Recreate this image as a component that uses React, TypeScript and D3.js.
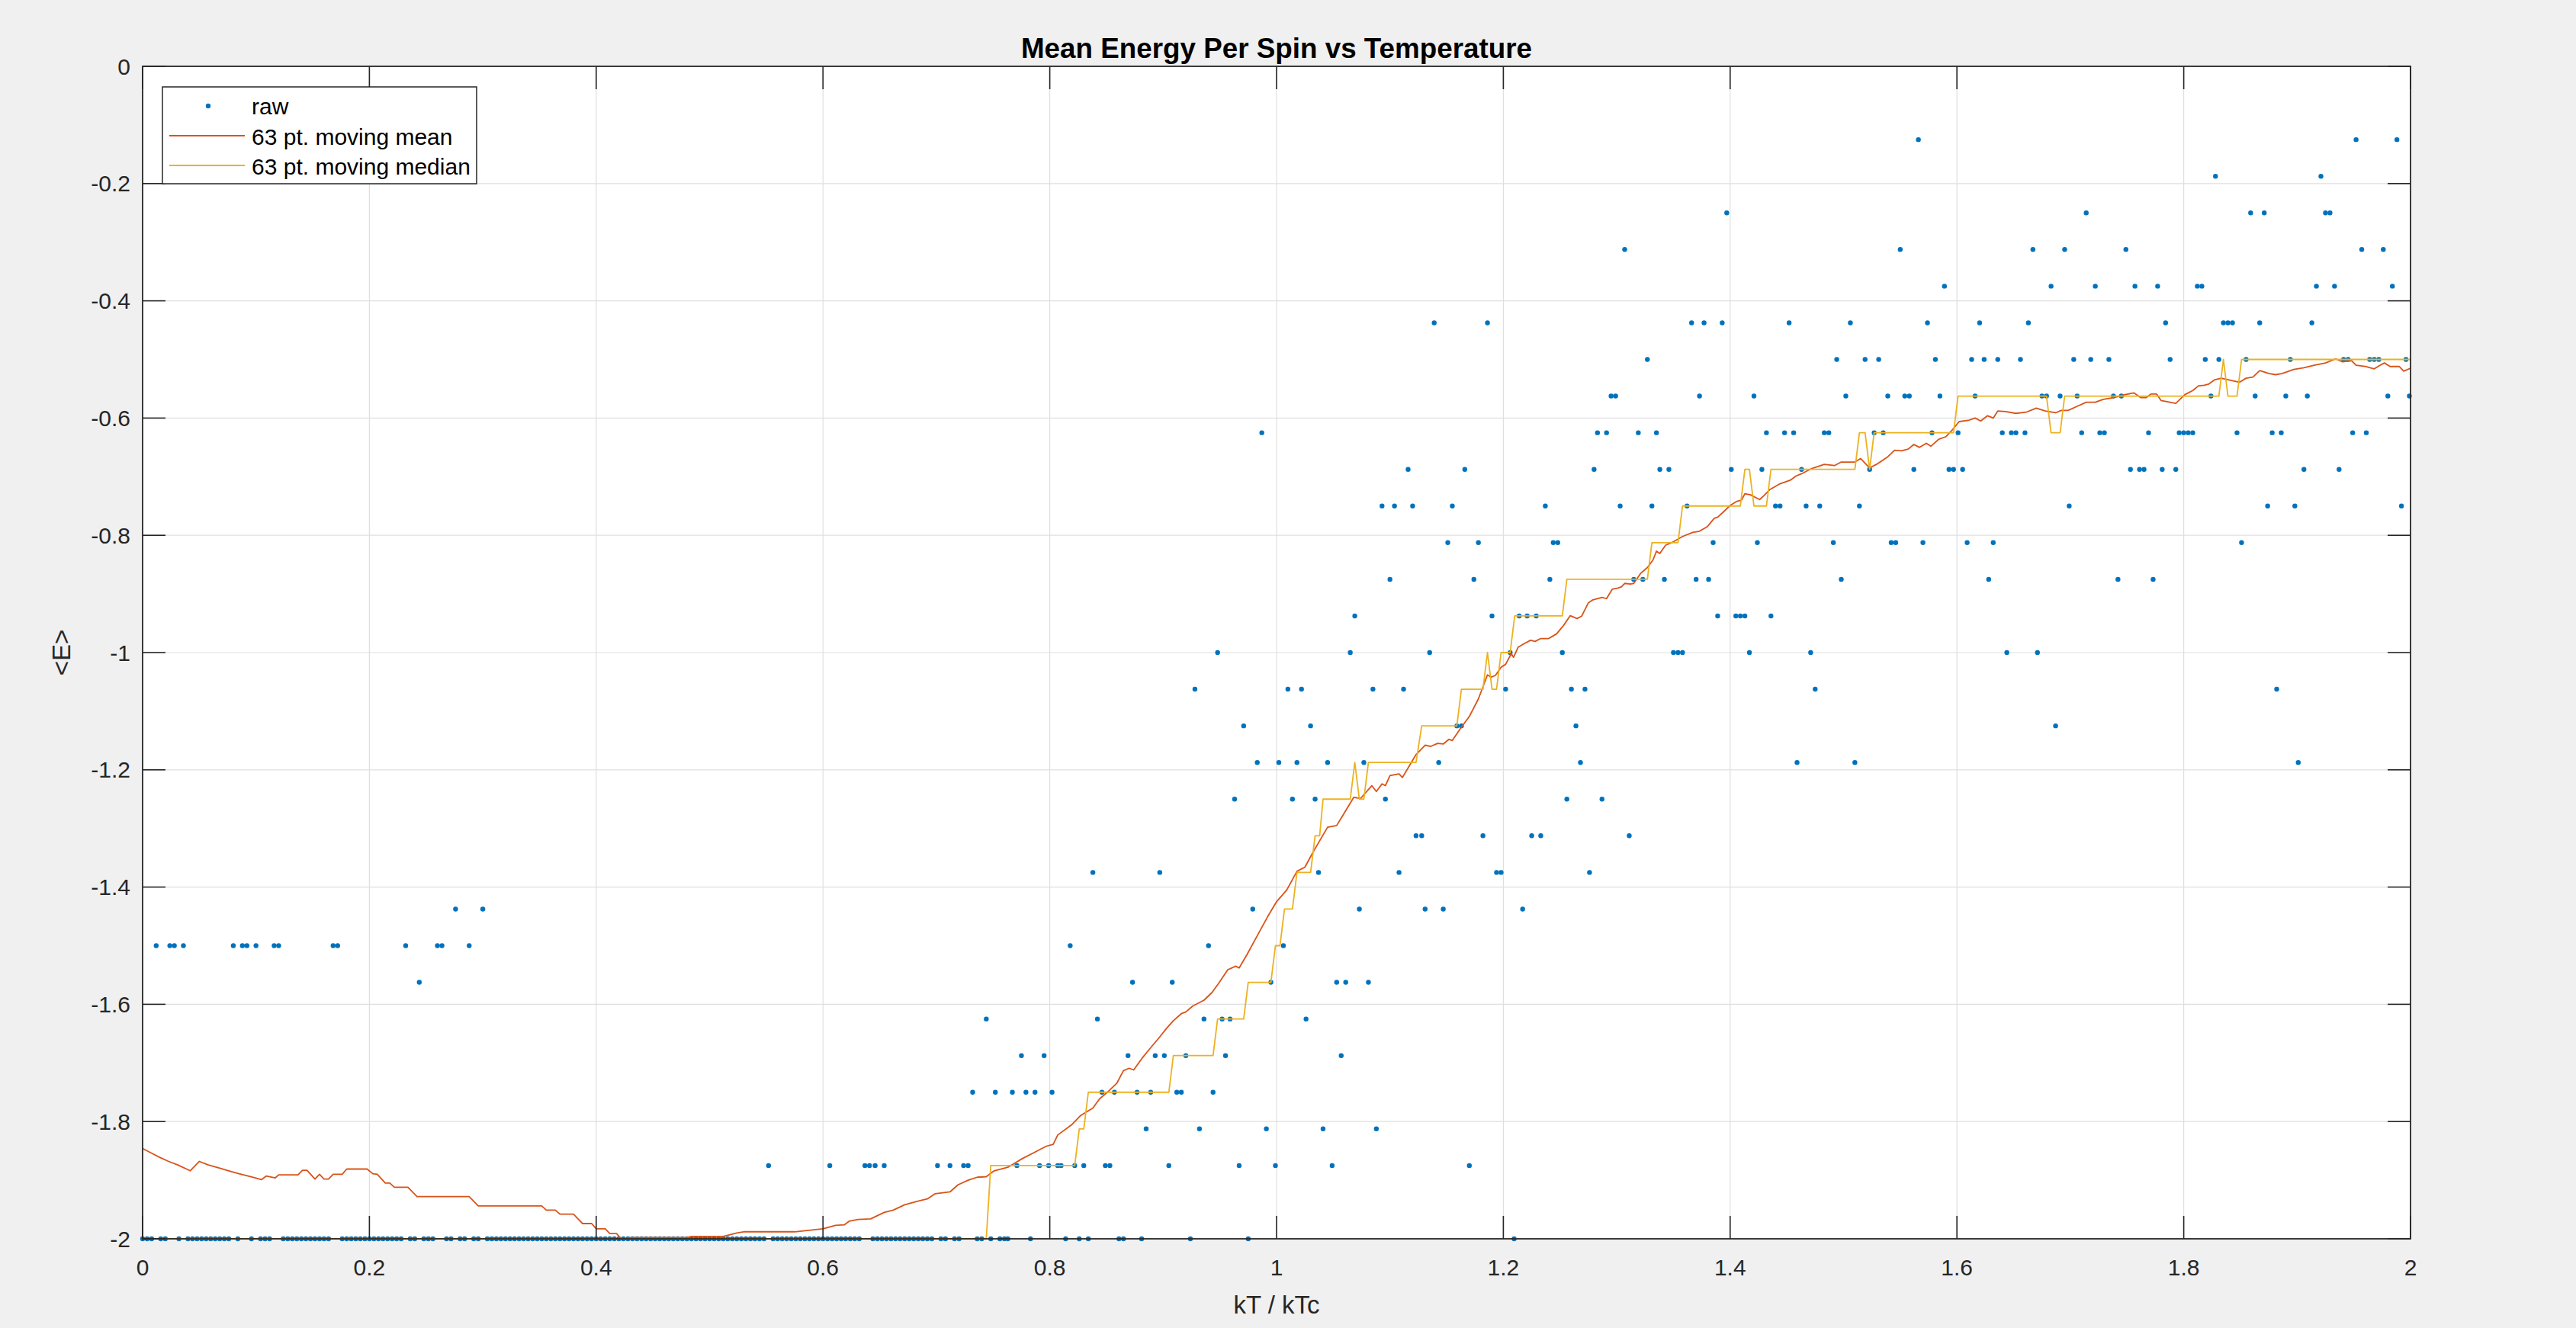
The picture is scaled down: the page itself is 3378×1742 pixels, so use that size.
import React, { useEffect } from 'react';
import * as d3 from 'd3';

// ---------- data ----------
const xTickValues = [0, 0.2, 0.4, 0.6, 0.8, 1, 1.2, 1.4, 1.6, 1.8, 2];
const yTickValues = [-2, -1.8, -1.6, -1.4, -1.2, -1, -0.8, -0.6, -0.4, -0.2, 0];

// raw samples that are not at the floor (-2), grouped by energy level
const rawByLevel: [number, number[]][] = [
  [-0.125, [1.566, 1.952, 1.988]],
  [-0.1875, [1.828, 1.921]],
  [-0.25, [1.397, 1.714, 1.859, 1.871, 1.925, 1.929]],
  [-0.3125, [1.307, 1.55, 1.667, 1.695, 1.749, 1.957, 1.976]],
  [-0.375, [1.589, 1.683, 1.722, 1.757, 1.777, 1.812, 1.816, 1.917, 1.933, 1.984]],
  [-0.4375, [1.139, 1.186, 1.366, 1.377, 1.393, 1.452, 1.506, 1.574, 1.62, 1.663, 1.784, 1.835, 1.839, 1.843, 1.867, 1.913]],
  [-0.5, [1.327, 1.494, 1.519, 1.531, 1.581, 1.613, 1.624, 1.636, 1.656, 1.703, 1.718, 1.734, 1.788, 1.819, 1.831, 1.855, 1.894, 1.941, 1.945, 1.964, 1.968, 1.972, 1.996]],
  [-0.5625, [1.295, 1.299, 1.373, 1.421, 1.502, 1.539, 1.554, 1.558, 1.585, 1.616, 1.675, 1.679, 1.691, 1.706, 1.738, 1.745, 1.824, 1.863, 1.89, 1.909, 1.98, 1.999]],
  [-0.625, [0.987, 1.283, 1.291, 1.319, 1.335, 1.432, 1.448, 1.456, 1.483, 1.487, 1.527, 1.535, 1.578, 1.601, 1.64, 1.648, 1.652, 1.66, 1.71, 1.726, 1.73, 1.769, 1.796, 1.8, 1.804, 1.808, 1.847, 1.878, 1.886, 1.949, 1.961]],
  [-0.6875, [1.116, 1.166, 1.28, 1.338, 1.346, 1.401, 1.428, 1.463, 1.523, 1.562, 1.593, 1.597, 1.605, 1.753, 1.761, 1.765, 1.781, 1.793, 1.906, 1.937]],
  [-0.75, [1.093, 1.104, 1.12, 1.155, 1.237, 1.303, 1.331, 1.362, 1.44, 1.444, 1.467, 1.479, 1.514, 1.699, 1.874, 1.898, 1.992]],
  [-0.8125, [1.151, 1.178, 1.244, 1.248, 1.385, 1.424, 1.491, 1.542, 1.546, 1.57, 1.609, 1.632, 1.851]],
  [-0.875, [1.1, 1.174, 1.241, 1.315, 1.323, 1.342, 1.37, 1.381, 1.498, 1.628, 1.742, 1.773]],
  [-0.9375, [1.069, 1.19, 1.214, 1.221, 1.229, 1.389, 1.405, 1.409, 1.413, 1.436]],
  [-1.0, [0.948, 1.065, 1.135, 1.206, 1.252, 1.35, 1.354, 1.358, 1.417, 1.471, 1.644, 1.671]],
  [-1.0625, [0.928, 1.01, 1.022, 1.085, 1.112, 1.202, 1.26, 1.272, 1.475, 1.882]],
  [-1.125, [0.971, 1.03, 1.159, 1.163, 1.264, 1.687]],
  [-1.1875, [0.983, 1.002, 1.018, 1.045, 1.077, 1.143, 1.268, 1.459, 1.51, 1.901]],
  [-1.25, [0.963, 1.014, 1.034, 1.096, 1.256, 1.287]],
  [-1.3125, [1.123, 1.128, 1.182, 1.225, 1.233, 1.311]],
  [-1.375, [0.838, 0.897, 1.037, 1.108, 1.194, 1.198, 1.276]],
  [-1.4375, [0.276, 0.3, 0.979, 1.073, 1.131, 1.147, 1.217]],
  [-1.5, [0.012, 0.024, 0.028, 0.036, 0.08, 0.088, 0.092, 0.1, 0.116, 0.12, 0.168, 0.172, 0.232, 0.26, 0.264, 0.288, 0.818, 0.94, 1.006]],
  [-1.5625, [0.244, 0.873, 0.908, 0.995, 1.053, 1.061, 1.081]],
  [-1.625, [0.744, 0.842, 0.936, 0.952, 0.959, 1.026]],
  [-1.6875, [0.775, 0.795, 0.869, 0.893, 0.901, 0.92, 0.955, 1.057]],
  [-1.75, [0.732, 0.752, 0.767, 0.779, 0.787, 0.802, 0.846, 0.857, 0.877, 0.889, 0.912, 0.916, 0.944]],
  [-1.8125, [0.885, 0.932, 0.991, 1.041, 1.088]],
  [-1.875, [0.552, 0.606, 0.637, 0.641, 0.646, 0.654, 0.701, 0.712, 0.724, 0.728, 0.771, 0.791, 0.799, 0.807, 0.81, 0.822, 0.83, 0.849, 0.853, 0.905, 0.967, 0.999, 1.049, 1.17]],
];

// floor samples (-2): dense on the sample grid up to floorDenseEnd, then these sparse ones
const floorLevel = -2;
const floorGridStep = 0.004;
const floorDenseEnd = 0.744;
const floorSparseX = [0.748, 0.756, 0.76, 0.763, 0.783, 0.814, 0.826, 0.834, 0.861, 0.865, 0.881, 0.924, 0.975, 1.2095];

const movingMean: [number, number][] = [
  [0, -1.846], [0.008, -1.854], [0.015, -1.861], [0.023, -1.868], [0.031, -1.874], [0.042, -1.884], [0.046, -1.876], [0.05, -1.868],
  [0.058, -1.874], [0.067, -1.879], [0.076, -1.884], [0.085, -1.889], [0.095, -1.894], [0.105, -1.899], [0.109, -1.893], [0.117, -1.896],
  [0.12, -1.891], [0.137, -1.891], [0.141, -1.883], [0.145, -1.883], [0.152, -1.898], [0.156, -1.89], [0.16, -1.898], [0.164, -1.898],
  [0.168, -1.89], [0.176, -1.89], [0.18, -1.881], [0.198, -1.881], [0.203, -1.889], [0.207, -1.89], [0.214, -1.905], [0.218, -1.905],
  [0.222, -1.912], [0.234, -1.912], [0.242, -1.928], [0.288, -1.928], [0.296, -1.944], [0.352, -1.944], [0.356, -1.951], [0.364, -1.951],
  [0.368, -1.958], [0.38, -1.958], [0.384, -1.966], [0.388, -1.974], [0.396, -1.974], [0.4, -1.983], [0.408, -1.983], [0.412, -1.991],
  [0.418, -1.991], [0.422, -2.0], [0.426, -2.0], [0.43, -1.998], [0.48, -1.998], [0.484, -1.996], [0.512, -1.996], [0.516, -1.994],
  [0.52, -1.992], [0.524, -1.99], [0.53, -1.988], [0.575, -1.988], [0.6, -1.983], [0.611, -1.977], [0.619, -1.976], [0.623, -1.97],
  [0.631, -1.967], [0.642, -1.966], [0.654, -1.955], [0.662, -1.951], [0.672, -1.942], [0.683, -1.936], [0.692, -1.932], [0.699, -1.923],
  [0.712, -1.92], [0.719, -1.908], [0.728, -1.9], [0.736, -1.895], [0.744, -1.894], [0.751, -1.884], [0.763, -1.878], [0.776, -1.863],
  [0.787, -1.852], [0.797, -1.842], [0.803, -1.839], [0.807, -1.823], [0.819, -1.806], [0.827, -1.79], [0.838, -1.777], [0.844, -1.761],
  [0.852, -1.748], [0.859, -1.735], [0.865, -1.713], [0.87, -1.709], [0.874, -1.712], [0.881, -1.693], [0.889, -1.674], [0.896, -1.658],
  [0.903, -1.641], [0.909, -1.628], [0.916, -1.616], [0.92, -1.613], [0.926, -1.603], [0.936, -1.593], [0.943, -1.58], [0.949, -1.564],
  [0.957, -1.541], [0.964, -1.535], [0.967, -1.538], [0.974, -1.515], [0.983, -1.483], [0.992, -1.451], [1.0, -1.425], [1.009, -1.405],
  [1.018, -1.373], [1.025, -1.366], [1.032, -1.341], [1.038, -1.321], [1.045, -1.298], [1.053, -1.295], [1.059, -1.276], [1.068, -1.247],
  [1.074, -1.249], [1.084, -1.227], [1.088, -1.237], [1.093, -1.224], [1.096, -1.227], [1.1, -1.21], [1.108, -1.207], [1.111, -1.213],
  [1.123, -1.174], [1.131, -1.158], [1.136, -1.16], [1.142, -1.155], [1.147, -1.156], [1.152, -1.148], [1.155, -1.15], [1.162, -1.13],
  [1.17, -1.109], [1.178, -1.079], [1.186, -1.038], [1.189, -1.042], [1.193, -1.039], [1.198, -1.025], [1.202, -1.02], [1.207, -1.002],
  [1.209, -1.008], [1.213, -0.991], [1.219, -0.984], [1.224, -0.979], [1.228, -0.981], [1.233, -0.976], [1.24, -0.976], [1.247, -0.968],
  [1.253, -0.954], [1.259, -0.937], [1.265, -0.942], [1.269, -0.938], [1.275, -0.915], [1.279, -0.91], [1.287, -0.906], [1.291, -0.908],
  [1.296, -0.892], [1.301, -0.89], [1.304, -0.888], [1.307, -0.882], [1.312, -0.883], [1.315, -0.882], [1.321, -0.865], [1.327, -0.855],
  [1.332, -0.842], [1.335, -0.827], [1.338, -0.831], [1.343, -0.817], [1.349, -0.812], [1.358, -0.802], [1.367, -0.795], [1.373, -0.793],
  [1.38, -0.785], [1.386, -0.771], [1.389, -0.769], [1.393, -0.762], [1.4, -0.749], [1.406, -0.742], [1.41, -0.74], [1.413, -0.729],
  [1.418, -0.731], [1.423, -0.736], [1.426, -0.739], [1.43, -0.732], [1.435, -0.722], [1.444, -0.712], [1.453, -0.706], [1.458, -0.699],
  [1.463, -0.695], [1.472, -0.686], [1.483, -0.679], [1.492, -0.681], [1.498, -0.675], [1.51, -0.675], [1.515, -0.669], [1.523, -0.685],
  [1.529, -0.679], [1.539, -0.666], [1.545, -0.655], [1.551, -0.656], [1.557, -0.653], [1.562, -0.645], [1.567, -0.65], [1.573, -0.643],
  [1.577, -0.648], [1.584, -0.636], [1.59, -0.632], [1.596, -0.62], [1.602, -0.606], [1.61, -0.604], [1.616, -0.6], [1.621, -0.605],
  [1.627, -0.596], [1.632, -0.6], [1.636, -0.588], [1.643, -0.589], [1.652, -0.592], [1.661, -0.59], [1.67, -0.583], [1.678, -0.588],
  [1.687, -0.591], [1.692, -0.587], [1.698, -0.587], [1.706, -0.58], [1.714, -0.573], [1.722, -0.573], [1.729, -0.568], [1.739, -0.565],
  [1.746, -0.561], [1.756, -0.557], [1.762, -0.565], [1.767, -0.565], [1.771, -0.559], [1.776, -0.559], [1.78, -0.57], [1.793, -0.575],
  [1.801, -0.56], [1.808, -0.553], [1.813, -0.545], [1.818, -0.544], [1.822, -0.542], [1.827, -0.535], [1.833, -0.532], [1.84, -0.535],
  [1.849, -0.539], [1.855, -0.532], [1.861, -0.53], [1.867, -0.519], [1.875, -0.524], [1.881, -0.526], [1.887, -0.524], [1.897, -0.517],
  [1.906, -0.514], [1.915, -0.51], [1.925, -0.506], [1.934, -0.499], [1.94, -0.504], [1.948, -0.502], [1.952, -0.51], [1.96, -0.512],
  [1.968, -0.516], [1.973, -0.51], [1.977, -0.506], [1.982, -0.512], [1.99, -0.512], [1.994, -0.52], [2.0, -0.515],
];

const movingMedian: [number, number][] = [
  [0, -2], [0.744, -2], [0.748, -1.875], [0.822, -1.875], [0.826, -1.8125], [0.83, -1.8125], [0.834, -1.75], [0.905, -1.75],
  [0.909, -1.6875], [0.944, -1.6875], [0.948, -1.625], [0.971, -1.625], [0.975, -1.5625], [0.995, -1.5625], [0.999, -1.5], [1.003, -1.5],
  [1.007, -1.4375], [1.014, -1.4375], [1.018, -1.375], [1.03, -1.375], [1.034, -1.3125], [1.038, -1.3125], [1.041, -1.25], [1.065, -1.25],
  [1.069, -1.1875], [1.073, -1.25], [1.077, -1.25], [1.081, -1.1875], [1.123, -1.1875], [1.128, -1.125], [1.159, -1.125], [1.163, -1.0625],
  [1.182, -1.0625], [1.186, -1.0], [1.19, -1.0625], [1.194, -1.0625], [1.198, -1.0], [1.206, -1.0], [1.21, -0.9375], [1.252, -0.9375],
  [1.256, -0.875], [1.327, -0.875], [1.331, -0.8125], [1.354, -0.8125], [1.358, -0.75], [1.409, -0.75], [1.413, -0.6875], [1.417, -0.6875],
  [1.421, -0.75], [1.432, -0.75], [1.436, -0.6875], [1.51, -0.6875], [1.514, -0.625], [1.519, -0.625], [1.523, -0.6875], [1.527, -0.625],
  [1.597, -0.625], [1.601, -0.5625], [1.679, -0.5625], [1.683, -0.625], [1.691, -0.625], [1.695, -0.5625], [1.831, -0.5625], [1.835, -0.5],
  [1.839, -0.5625], [1.847, -0.5625], [1.851, -0.5], [2.0, -0.5],
];

const legendLabels = ['raw', '63 pt. moving mean', '63 pt. moving median'];
const titleText = 'Mean Energy Per Spin vs Temperature';
const xLabelText = 'kT / kTc';
const yLabelText = '<E>';

// ---------- layout & style ----------
const W = 3378;
const H = 1742;
const PL = 187, PR = 3161, PT = 87, PB = 1625;
const FONT = '"Liberation Sans", Arial, Helvetica, sans-serif';
const AX = '#262626';
const C_RAW = '#0072BD';
const C_MEAN = '#D95319';
const C_MED = '#EDB120';
const TICK = 30;

export default function App() {
  useEffect(() => {
    document.body.style.margin = '0';
    document.body.style.background = '#f0f0f0';
  }, []);

  const x = d3.scaleLinear().domain([0, 2]).range([PL, PR]);
  const y = d3.scaleLinear().domain([-2, 0]).range([PB, PT]);

  const offPoints: [number, number][] = [];
  rawByLevel.forEach(([lvl, xs]) => xs.forEach((v) => offPoints.push([v, lvl])));

  const floorPoints: [number, number][] = [];
  d3.range(0, Math.round(floorDenseEnd / floorGridStep) + 1).forEach((i) => {
    const xv = i * floorGridStep;
    const taken = offPoints.some(([px]) => Math.abs(px - xv) < floorGridStep / 2);
    if (!taken) floorPoints.push([xv, floorLevel]);
  });
  floorSparseX.forEach((v) => floorPoints.push([v, floorLevel]));
  const rawPoints = floorPoints.concat(offPoints);

  const line = d3.line<[number, number]>().x((d) => x(d[0])).y((d) => y(d[1]));
  const fmt = (v: number) => String(+v.toFixed(1));

  return (
    <svg width={W} height={H} style={{ display: 'block', position: 'absolute', left: 0, top: 0 }} fontFamily={FONT}>
      <rect x={0} y={0} width={W} height={H} fill="#f0f0f0" />
      <rect x={PL} y={PT} width={PR - PL} height={PB - PT} fill="#ffffff" />

      {/* grid */}
      <g stroke="#dfdfdf" strokeWidth={1.2}>
        {xTickValues.slice(1, -1).map((t) => (
          <line key={'gx' + t} x1={x(t)} x2={x(t)} y1={PT} y2={PB} />
        ))}
        {yTickValues.slice(1, -1).map((t) => (
          <line key={'gy' + t} x1={PL} x2={PR} y1={y(t)} y2={y(t)} />
        ))}
      </g>

      {/* data */}
      <g fill={C_RAW}>
        {rawPoints.map((d, i) => (
          <circle key={'r' + i} cx={x(d[0])} cy={y(d[1])} r={3.2} />
        ))}
      </g>
      <path d={line(movingMean) || ''} fill="none" stroke={C_MEAN} strokeWidth={1.8} strokeLinejoin="round" />
      <path d={line(movingMedian) || ''} fill="none" stroke={C_MED} strokeWidth={1.8} strokeLinejoin="round" />

      {/* ticks */}
      <g stroke={AX} strokeWidth={1.6}>
        {xTickValues.map((t) => (
          <g key={'tx' + t}>
            <line x1={x(t)} x2={x(t)} y1={PB} y2={PB - TICK} />
            <line x1={x(t)} x2={x(t)} y1={PT} y2={PT + TICK} />
          </g>
        ))}
        {yTickValues.map((t) => (
          <g key={'ty' + t}>
            <line x1={PL} x2={PL + TICK} y1={y(t)} y2={y(t)} />
            <line x1={PR} x2={PR - TICK} y1={y(t)} y2={y(t)} />
          </g>
        ))}
      </g>
      <rect x={PL} y={PT} width={PR - PL} height={PB - PT} fill="none" stroke={AX} strokeWidth={1.8} />

      {/* tick labels */}
      <g fill={AX} fontSize={30}>
        {xTickValues.map((t) => (
          <text key={'lx' + t} x={x(t)} y={1673} textAnchor="middle">{fmt(t)}</text>
        ))}
        {yTickValues.map((t) => (
          <text key={'ly' + t} x={171} y={y(t)} dy="0.35em" textAnchor="end">{fmt(t)}</text>
        ))}
      </g>

      {/* labels */}
      <text x={(PL + PR) / 2} y={1723} textAnchor="middle" fontSize={33} fill={AX}>{xLabelText}</text>
      <text transform={`translate(92, ${(PT + PB) / 2}) rotate(-90)`} textAnchor="middle" fontSize={33} fill={AX}>{yLabelText}</text>
      <text x={(PL + PR) / 2} y={76} textAnchor="middle" fontSize={36.8} fontWeight="bold" fill="#000">{titleText}</text>

      {/* legend */}
      <g>
        <rect x={213} y={114} width={412} height={127} fill="#ffffff" stroke={AX} strokeWidth={1.5} />
        <circle cx={273} cy={139} r={3.2} fill={C_RAW} />
        <line x1={222} x2={321} y1={178} y2={178} stroke={C_MEAN} strokeWidth={1.8} />
        <line x1={222} x2={321} y1={217} y2={217} stroke={C_MED} strokeWidth={1.8} />
        {legendLabels.map((s, i) => (
          <text key={s} x={330} y={150 + i * 39.5} fontSize={30} fill="#000">{s}</text>
        ))}
      </g>
    </svg>
  );
}
